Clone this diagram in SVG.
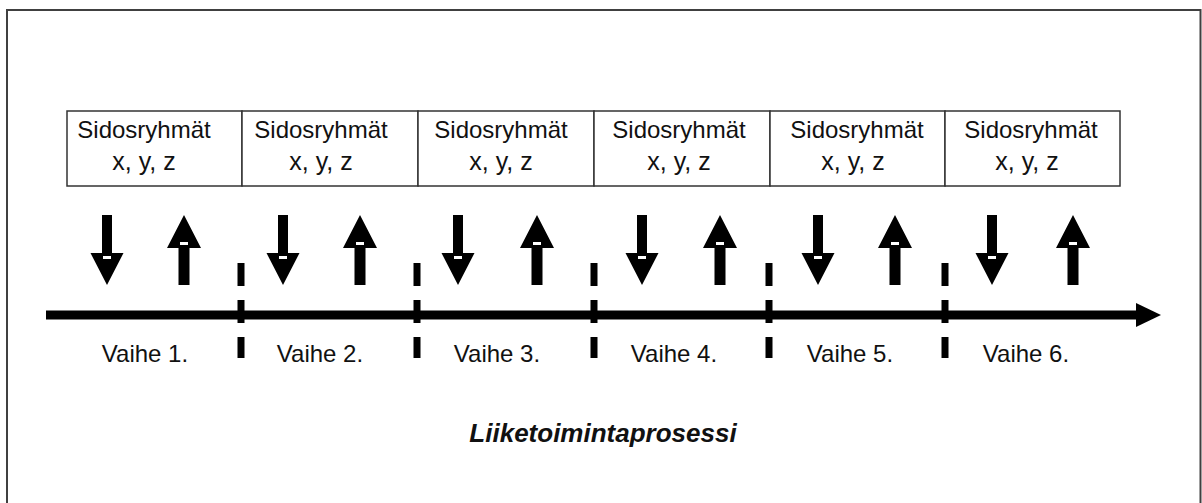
<svg xmlns="http://www.w3.org/2000/svg" width="1202" height="503" viewBox="0 0 1202 503">
<style>
.frame{fill:none;stroke:#404040;stroke-width:2}
.box{fill:#fff;stroke:#333;stroke-width:1.5}
.t{font-family:"Liberation Sans",Arial,sans-serif;font-size:24px;fill:#111;text-anchor:middle}
.xyz{font-size:25px}
.title{font-family:"Liberation Sans",Arial,sans-serif;font-size:26px;font-weight:bold;font-style:italic;fill:#111;text-anchor:middle}
.blk{fill:#000}
.notch{fill:#fff}
</style>
<defs>
<g id="down"><path d="M-5,0 H5 V38 H16.5 L0,70 L-16.5,38 H-5 Z"/><rect class="notch" x="-4" y="41" width="8" height="3"/></g>
<g id="up"><path d="M0,0 L17,33 H5.5 V70 H-5.5 V33 H-17 Z"/><rect class="notch" x="-4" y="27" width="8" height="3"/></g>
<g id="dash"><rect x="-3.5" y="263" width="7" height="23"/><rect x="-3.5" y="300" width="7" height="23"/><rect x="-3.5" y="337" width="7" height="21"/></g>
</defs>
<rect width="1202" height="503" fill="#fff"/>
<path class="frame" d="M7,503 V10 H1200.5 V503"/>
<g id="stakeholders">
<g id="box1"><rect class="box" x="67" y="111" width="175" height="75"/><text class="t" x="144" y="138">Sidosryhmät</text><text class="t xyz" x="144" y="170">x, y, z</text></g>
<g id="box2"><rect class="box" x="242" y="111" width="176" height="75"/><text class="t" x="321" y="138">Sidosryhmät</text><text class="t xyz" x="321" y="170">x, y, z</text></g>
<g id="box3"><rect class="box" x="418" y="111" width="176" height="75"/><text class="t" x="501" y="138">Sidosryhmät</text><text class="t xyz" x="501" y="170">x, y, z</text></g>
<g id="box4"><rect class="box" x="594" y="111" width="176" height="75"/><text class="t" x="679" y="138">Sidosryhmät</text><text class="t xyz" x="679" y="170">x, y, z</text></g>
<g id="box5"><rect class="box" x="770" y="111" width="175" height="75"/><text class="t" x="857" y="138">Sidosryhmät</text><text class="t xyz" x="853" y="170">x, y, z</text></g>
<g id="box6"><rect class="box" x="945" y="111" width="175" height="75"/><text class="t" x="1031" y="138">Sidosryhmät</text><text class="t xyz" x="1027" y="170">x, y, z</text></g>
</g>
<g id="connectors" class="blk">
<use href="#down" x="107" y="215"/><use href="#up" x="184" y="215"/>
<use href="#down" x="283" y="215"/><use href="#up" x="360" y="215"/>
<use href="#down" x="458" y="215"/><use href="#up" x="537" y="215"/>
<use href="#down" x="642" y="215"/><use href="#up" x="720" y="215"/>
<use href="#down" x="818" y="215"/><use href="#up" x="895" y="215"/>
<use href="#down" x="992" y="215"/><use href="#up" x="1073" y="215"/>
<rect x="46" y="310.5" width="1092" height="9"/>
<path d="M1136,303 L1161,315 L1136,327 Z"/>
<use href="#dash" x="241"/><use href="#dash" x="417"/><use href="#dash" x="594"/><use href="#dash" x="769"/><use href="#dash" x="945"/>
</g>
<g id="phases">
<text class="t" x="145" y="362">Vaihe 1.</text>
<text class="t" x="320" y="362">Vaihe 2.</text>
<text class="t" x="497" y="362">Vaihe 3.</text>
<text class="t" x="674" y="362">Vaihe 4.</text>
<text class="t" x="850" y="362">Vaihe 5.</text>
<text class="t" x="1026" y="362">Vaihe 6.</text>
</g>
<text id="process" class="title" x="603" y="442">Liiketoimintaprosessi</text>
</svg>
